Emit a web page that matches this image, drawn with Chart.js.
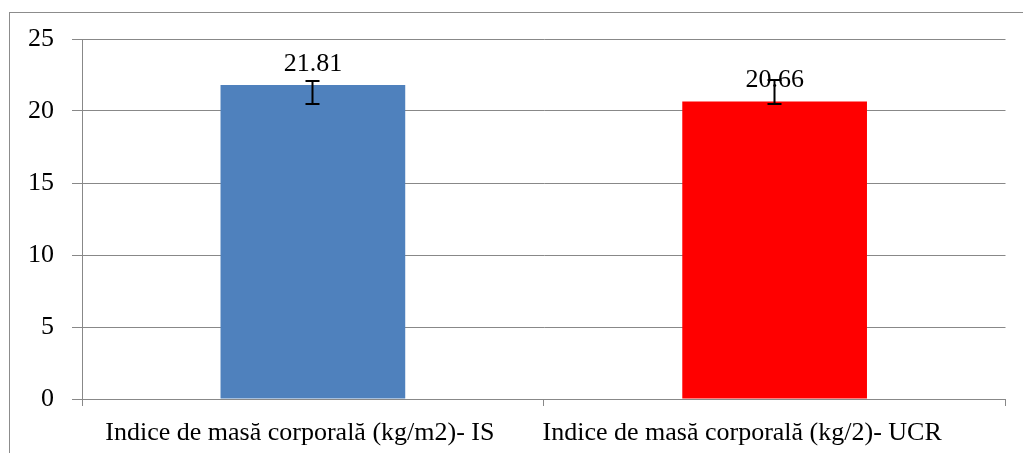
<!DOCTYPE html>
<html>
<head>
<meta charset="utf-8">
<script src="https://cdn.jsdelivr.net/npm/chart.js@4/dist/chart.umd.min.js"></script>
<style>
    html, body { margin: 0; padding: 0; background: #fff; overflow: hidden; }
    #wrap { position: relative; width: 1023px; height: 453px; overflow: hidden; }
    #frame { position: absolute; left: 9px; top: 12px; width: 1100px; height: 500px; border: 1px solid #8c8c8c; }
    canvas { position: absolute; left: 0; top: 0; }
</style>
</head>
<body>
<div id="wrap">
    <div id="frame"></div>
    <canvas id="myChart" width="1023" height="453"></canvas>
</div>
<script>
const categories = ['Indice de masă corporală (kg/m2)- IS', 'Indice de masă corporală (kg/2)- UCR'];
const values = [21.81, 20.66];
const errLow = [20.49, 20.49];
const errHigh = [22.08, 22.15];
const barColors = ['#4F81BD', '#FF0000'];
const yTicks = [0, 5, 10, 15, 20, 25];

const serif = "'Liberation Serif', 'Times New Roman', serif";
const gridColor = '#888888';

// value labels + error bars
const extras = {
    id: 'extras',
    afterDatasetsDraw(chart) {
        const ctx = chart.ctx;
        const meta = chart.getDatasetMeta(0);
        const y = chart.scales.y;
        ctx.save();
        ctx.font = '26px ' + serif;
        ctx.fillStyle = '#000';
        ctx.textAlign = 'center';
        ctx.textBaseline = 'alphabetic';
        meta.data.forEach((bar, i) => {
            ctx.fillText(values[i].toFixed(2), bar.x, bar.y - 14);
        });
        ctx.strokeStyle = '#000';
        ctx.lineWidth = 2;
        meta.data.forEach((bar, i) => {
            const x = Math.round(bar.x) - 0.5;
            const top = y.getPixelForValue(errHigh[i]);
            const bot = y.getPixelForValue(errLow[i]);
            ctx.beginPath();
            ctx.moveTo(x, top); ctx.lineTo(x, bot);
            ctx.moveTo(x - 7, top); ctx.lineTo(x + 7, top);
            ctx.moveTo(x - 7, bot); ctx.lineTo(x + 7, bot);
            ctx.stroke();
        });
        ctx.restore();
    }
};

// the original labels sit a bit left of the category centre
const trailing = ['\u00a0\u00a0\u00a0\u00a0', '\u00a0\u00a0\u00a0\u00a0\u00a0\u00a0\u00a0\u00a0\u00a0\u00a0'];

const ctx = document.getElementById('myChart').getContext('2d');
new Chart(ctx, {
    type: 'bar',
    data: {
        labels: categories,
        datasets: [{
            data: values,
            backgroundColor: barColors,
            borderWidth: 0,
            categoryPercentage: 1,
            barPercentage: 0.4
        }]
    },
    options: {
        responsive: false,
        animation: false,
        layout: { padding: { top: 39, right: 17, left: 0, bottom: 0 } },
        plugins: { legend: { display: false }, tooltip: { enabled: false } },
        scales: {
            x: {
                afterFit: s => { s.height = 54; },
                grid: { drawOnChartArea: false, drawTicks: true, tickLength: 7, color: gridColor, lineWidth: 1 },
                border: { color: gridColor, width: 1 },
                ticks: {
                    color: '#000', font: { family: serif, size: 26 }, padding: 12, maxRotation: 0, autoSkip: false,
                    callback: (v, i) => categories[i] + trailing[i]
                }
            },
            y: {
                min: 0,
                max: 25,
                afterFit: s => { s.width = 82; },
                afterBuildTicks: s => { s.ticks = yTicks.map(v => ({ value: v })); },
                grid: { color: gridColor, lineWidth: 1, tickLength: 10 },
                border: { color: gridColor, width: 1 },
                ticks: { color: '#000', font: { family: serif, size: 26 }, padding: 18 }
            }
        }
    },
    plugins: [extras]
});
</script>
</body>
</html>
